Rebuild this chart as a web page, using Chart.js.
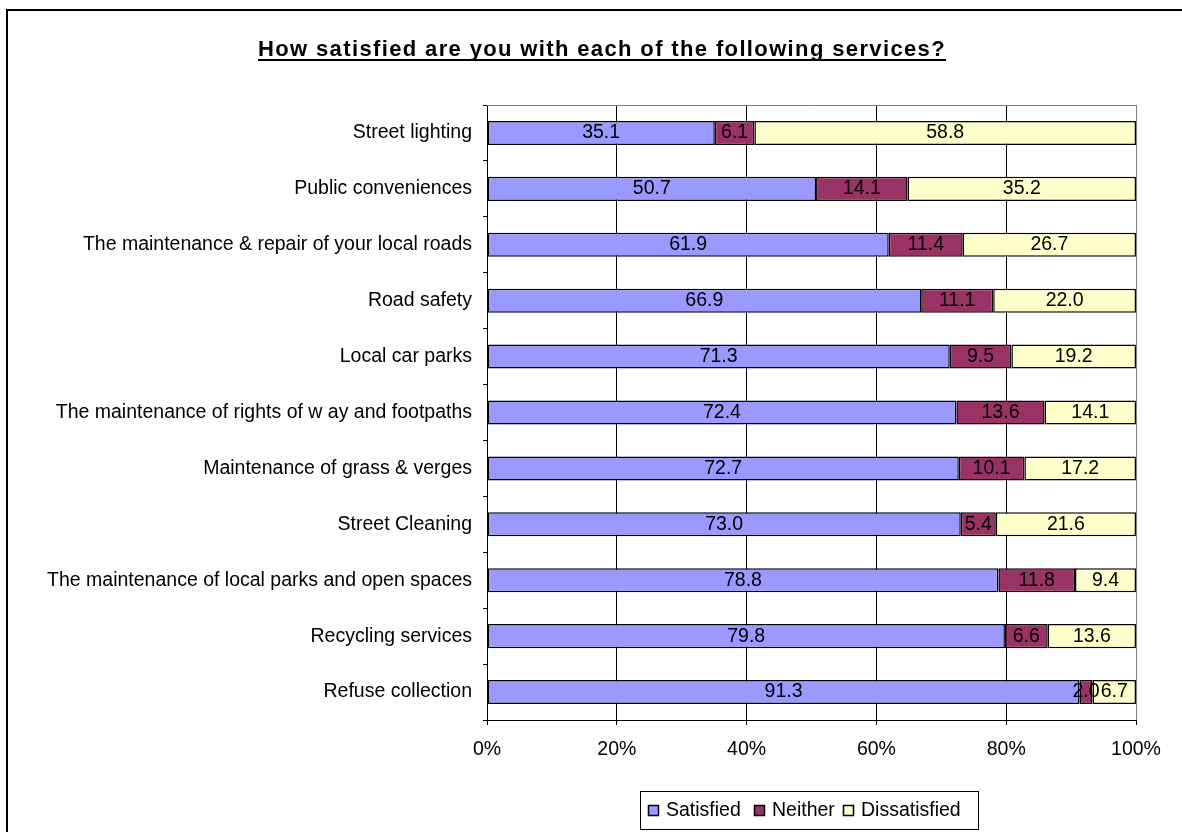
<!DOCTYPE html>
<html>
<head>
<meta charset="utf-8">
<script src="https://cdn.jsdelivr.net/npm/chart.js@4/dist/chart.umd.min.js"></script>
<style>
  html, body { margin: 0; padding: 0; background: #fff; }
  #wrap { width: 1182px; height: 832px; position: relative; }
</style>
</head>
<body>
<div id="wrap"><canvas id="charts" width="1182" height="832"></canvas></div>
<script>
const services = [
  'Street lighting',
  'Public conveniences',
  'The maintenance & repair of your local roads',
  'Road safety',
  'Local car parks',
  'The maintenance of rights of w ay and footpaths',
  'Maintenance of grass & verges',
  'Street Cleaning',
  'The maintenance of local parks and open spaces',
  'Recycling services',
  'Refuse collection'
];
const satisfied    = [35.1, 50.7, 61.9, 66.9, 71.3, 72.4, 72.7, 73.0, 78.8, 79.8, 91.3];
const neither      = [6.1, 14.1, 11.4, 11.1, 9.5, 13.6, 10.1, 5.4, 11.8, 6.6, 2.0];
const dissatisfied = [58.8, 35.2, 26.7, 22.0, 19.2, 14.1, 17.2, 21.6, 9.4, 13.6, 6.7];
const seriesNames  = ['Satisfied', 'Neither', 'Dissatisfied'];
const xTicks = [0, 20, 40, 60, 80, 100];

const chartTitle = 'How satisfied are you with each of the following services?';
const FONT = '"Liberation Sans", Arial, sans-serif';
const TEXT_SIZE = 19.5;

// 100% stacked: each row is scaled by its own total
const rowTotals = services.map((_, i) => satisfied[i] + neither[i] + dissatisfied[i]);
const toShare = arr => arr.map((v, i) => v / rowTotals[i] * 100);

const raw = [satisfied, neither, dissatisfied];
const colors = ['#9999FF', '#993366', '#FFFFCC'];

const frameAndTitle = {
  id: 'frameAndTitle',
  beforeDraw(chart) {
    const ctx = chart.ctx;
    ctx.save();
    ctx.fillStyle = '#fff';
    ctx.fillRect(0, 0, chart.width, chart.height);
    ctx.strokeStyle = '#000';
    ctx.lineWidth = 2;
    ctx.strokeRect(7, 10, 1300, 1000);
    // title, bold, spaced out and underlined
    ctx.font = 'bold 22px ' + FONT;
    const plain = ctx.measureText(chartTitle).width;
    const spacing = (688 - plain) / chartTitle.length;
    ctx.letterSpacing = spacing + 'px';
    ctx.fillStyle = '#000';
    ctx.textAlign = 'left';
    ctx.textBaseline = 'alphabetic';
    const tx = 258, ty = 56;
    ctx.fillText(chartTitle, tx, ty);
    ctx.fillRect(tx, ty + 3, 688, 2);
    ctx.restore();
  },
  afterDatasetsDraw(chart) {
    const ctx = chart.ctx;
    ctx.save();
    ctx.font = TEXT_SIZE + 'px ' + FONT;
    ctx.fillStyle = '#000';
    ctx.textAlign = 'center';
    ctx.textBaseline = 'middle';
    chart.data.datasets.forEach((ds, d) => {
      chart.getDatasetMeta(d).data.forEach((bar, i) => {
        const p = bar.getProps(['x', 'y', 'base'], true);
        ctx.fillText(raw[d][i].toFixed(1), (p.x + p.base) / 2, p.y);
      });
    });
    // light frame along the top of the plot area
    const a = chart.chartArea;
    ctx.strokeStyle = '#808080';
    ctx.lineWidth = 1;
    ctx.beginPath();
    ctx.moveTo(a.left, a.top + 0.5);
    ctx.lineTo(a.right, a.top + 0.5);
    ctx.stroke();
    ctx.restore();
  },
  afterDraw(chart) {
    // legend box under the axis
    const ctx = chart.ctx;
    ctx.save();
    ctx.strokeStyle = '#000';
    ctx.lineWidth = 1;
    ctx.strokeRect(640.5, 791.5, 338, 38);
    ctx.font = TEXT_SIZE + 'px ' + FONT;
    ctx.textBaseline = 'middle';
    ctx.textAlign = 'left';
    const markX = [648, 754, 843];
    markX.forEach((mx, k) => {
      ctx.fillStyle = colors[k];
      ctx.fillRect(mx, 805, 11, 11);
      ctx.lineWidth = 1.5;
      ctx.strokeRect(mx + 0.5, 805.5, 10, 10);
      ctx.fillStyle = '#000';
      ctx.fillText(seriesNames[k], mx + 18, 811);
    });
    ctx.restore();
  }
};

const ctx = document.getElementById('charts').getContext('2d');
new Chart(ctx, {
  type: 'bar',
  data: {
    labels: services,
    datasets: seriesNames.map((name, k) => ({
      label: name,
      data: toShare(raw[k]),
      backgroundColor: colors[k],
      borderColor: '#000',
      borderWidth: 1.5,
      borderSkipped: false,
      barPercentage: 0.43,
      categoryPercentage: 1
    }))
  },
  options: {
    indexAxis: 'y',
    responsive: false,
    animation: false,
    layout: { padding: { left: 0, top: 105, right: 46, bottom: 72 } },
    plugins: {
      legend: { display: false },
      title: { display: false },
      tooltip: { enabled: false }
    },
    scales: {
      x: {
        stacked: true,
        min: 0,
        max: 100,
        afterFit: s => { s.height = 40; },
        afterBuildTicks: s => { s.ticks = xTicks.map(v => ({ value: v })); },
        grid: {
          color: c => (c.tick && c.tick.value === 100 ? '#808080' : '#000'),
          tickColor: '#000',
          tickLength: 5,
          lineWidth: 1
        },
        border: { color: '#000', width: 1 },
        ticks: {
          callback: v => v + '%',
          color: '#000',
          font: { family: FONT, size: TEXT_SIZE },
          padding: 13,
          maxRotation: 0
        }
      },
      y: {
        stacked: true,
        afterFit: s => { s.width = 487; },
        grid: {
          drawOnChartArea: false,
          tickLength: 4,
          tickColor: '#000',
          offset: true
        },
        border: { color: '#000', width: 1 },
        ticks: {
          color: '#000',
          font: { family: FONT, size: TEXT_SIZE },
          padding: 11,
          autoSkip: false
        }
      }
    }
  },
  plugins: [frameAndTitle]
});
</script>
</body>
</html>
